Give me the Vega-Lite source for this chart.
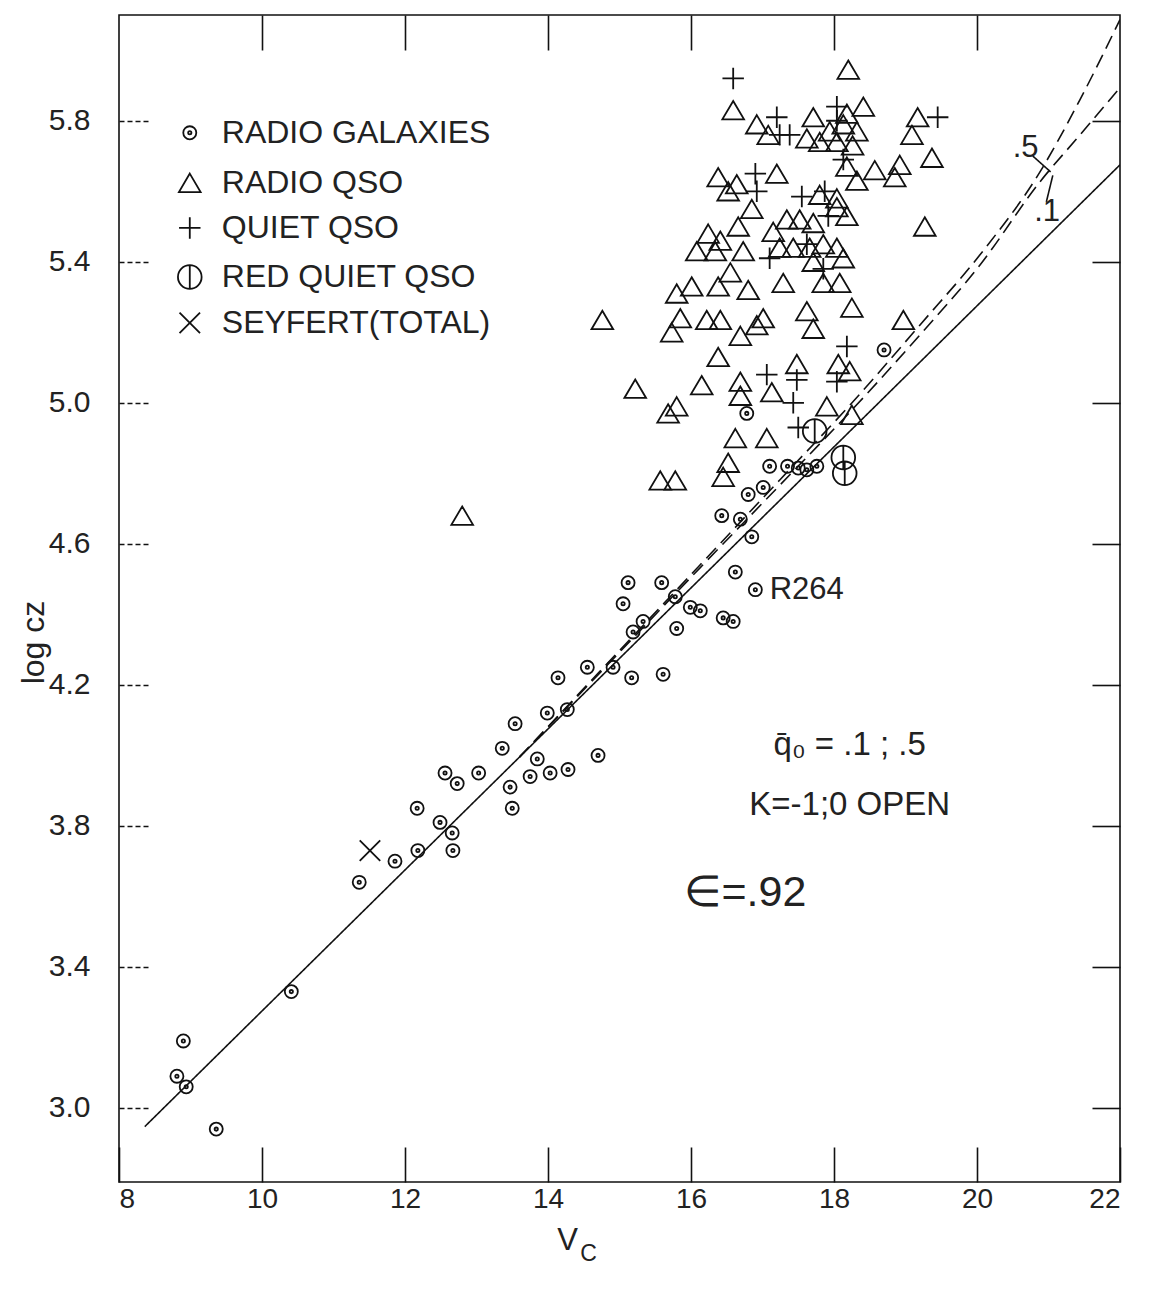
{
  "$schema": "https://vega.github.io/schema/vega-lite/v6.json",
  "width": 1001,
  "height": 1167,
  "autosize": {"type": "none"},
  "padding": {"left": 119, "top": 15, "right": 34, "bottom": 107},
  "background": "white",
  "config": {
    "view": {"stroke": "#111", "strokeWidth": 1.6},
    "axis": {"grid": false, "domain": false, "tickColor": "#111", "tickWidth": 1.6, "labelColor": "#222", "labelFont": "Liberation Sans", "titleFont": "Liberation Sans", "titleColor": "#222", "titleFontWeight": "normal"},
    "text": {"font": "Liberation Sans", "color": "#222"}
  },
  "datasets": {
    "lines": [
      {"s": "solid", "V": 8.36, "L": 2.947},
      {"s": "solid", "V": 22.0, "L": 5.675},
      {"s": "q05", "V": 13.6, "L": 3.995},
      {"s": "q05", "V": 15.007, "L": 4.299},
      {"s": "q05", "V": 16.126, "L": 4.54},
      {"s": "q05", "V": 17.245, "L": 4.782},
      {"s": "q05", "V": 18.224, "L": 4.994},
      {"s": "q05", "V": 19.203, "L": 5.221},
      {"s": "q05", "V": 20.042, "L": 5.42},
      {"s": "q05", "V": 20.881, "L": 5.655},
      {"s": "q05", "V": 21.441, "L": 5.86},
      {"s": "q05", "V": 22.0, "L": 6.087},
      {"s": "q01", "V": 13.6, "L": 3.995},
      {"s": "q01", "V": 15.007, "L": 4.294},
      {"s": "q01", "V": 16.126, "L": 4.532},
      {"s": "q01", "V": 17.245, "L": 4.767},
      {"s": "q01", "V": 18.224, "L": 4.974},
      {"s": "q01", "V": 19.203, "L": 5.193},
      {"s": "q01", "V": 20.042, "L": 5.391},
      {"s": "q01", "V": 20.881, "L": 5.627},
      {"s": "q01", "V": 21.441, "L": 5.76},
      {"s": "q01", "V": 22.0, "L": 5.894},
      {"s": "lead5", "V": 20.78, "L": 5.7},
      {"s": "lead5", "V": 21.03, "L": 5.655},
      {"s": "lead1", "V": 20.97, "L": 5.57},
      {"s": "lead1", "V": 21.06, "L": 5.645}
    ],
    "pts": [
      {"t": "gal", "V": 8.9, "L": 3.19}, {"t": "gal", "V": 8.81, "L": 3.09}, {"t": "gal", "V": 8.94, "L": 3.06},
      {"t": "gal", "V": 9.36, "L": 2.94}, {"t": "gal", "V": 10.41, "L": 3.33}, {"t": "gal", "V": 11.36, "L": 3.64},
      {"t": "gal", "V": 11.86, "L": 3.7}, {"t": "gal", "V": 12.18, "L": 3.73}, {"t": "gal", "V": 12.49, "L": 3.81},
      {"t": "gal", "V": 12.66, "L": 3.78}, {"t": "gal", "V": 12.67, "L": 3.73}, {"t": "gal", "V": 12.17, "L": 3.85},
      {"t": "gal", "V": 12.56, "L": 3.95}, {"t": "gal", "V": 12.73, "L": 3.92}, {"t": "gal", "V": 13.03, "L": 3.95},
      {"t": "gal", "V": 13.36, "L": 4.02}, {"t": "gal", "V": 13.47, "L": 3.91}, {"t": "gal", "V": 13.5, "L": 3.85},
      {"t": "gal", "V": 13.54, "L": 4.09}, {"t": "gal", "V": 13.85, "L": 3.99}, {"t": "gal", "V": 13.75, "L": 3.94},
      {"t": "gal", "V": 14.03, "L": 3.95}, {"t": "gal", "V": 14.28, "L": 3.96}, {"t": "gal", "V": 14.7, "L": 4.0},
      {"t": "gal", "V": 13.99, "L": 4.12}, {"t": "gal", "V": 14.27, "L": 4.13}, {"t": "gal", "V": 14.14, "L": 4.22},
      {"t": "gal", "V": 14.55, "L": 4.25}, {"t": "gal", "V": 14.91, "L": 4.25}, {"t": "gal", "V": 15.17, "L": 4.22},
      {"t": "gal", "V": 15.61, "L": 4.23}, {"t": "gal", "V": 15.19, "L": 4.35}, {"t": "gal", "V": 15.33, "L": 4.38},
      {"t": "gal", "V": 15.8, "L": 4.36}, {"t": "gal", "V": 15.12, "L": 4.49}, {"t": "gal", "V": 15.05, "L": 4.43},
      {"t": "gal", "V": 15.59, "L": 4.49}, {"t": "gal", "V": 15.99, "L": 4.42}, {"t": "gal", "V": 16.13, "L": 4.41},
      {"t": "gal", "V": 15.78, "L": 4.45}, {"t": "gal", "V": 16.62, "L": 4.52}, {"t": "gal", "V": 16.45, "L": 4.39},
      {"t": "gal", "V": 16.59, "L": 4.38}, {"t": "gal", "V": 16.9, "L": 4.47}, {"t": "gal", "V": 16.43, "L": 4.68},
      {"t": "gal", "V": 16.69, "L": 4.67}, {"t": "gal", "V": 16.85, "L": 4.62}, {"t": "gal", "V": 16.8, "L": 4.74},
      {"t": "gal", "V": 17.01, "L": 4.76}, {"t": "gal", "V": 17.1, "L": 4.82}, {"t": "gal", "V": 17.35, "L": 4.82},
      {"t": "gal", "V": 17.5, "L": 4.815}, {"t": "gal", "V": 17.62, "L": 4.81}, {"t": "gal", "V": 17.76, "L": 4.82},
      {"t": "gal", "V": 16.78, "L": 4.97}, {"t": "gal", "V": 18.7, "L": 5.15},
      {"t": "sey", "V": 11.51, "L": 3.73},
      {"t": "rqso", "V": 12.8, "L": 4.68}, {"t": "rqso", "V": 14.76, "L": 5.235}, {"t": "rqso", "V": 15.22, "L": 5.04},
      {"t": "rqso", "V": 18.2, "L": 5.945}, {"t": "rqso", "V": 16.59, "L": 5.83}, {"t": "rqso", "V": 16.92, "L": 5.79},
      {"t": "rqso", "V": 17.08, "L": 5.76}, {"t": "rqso", "V": 17.71, "L": 5.81}, {"t": "rqso", "V": 17.62, "L": 5.75},
      {"t": "rqso", "V": 17.8, "L": 5.74}, {"t": "rqso", "V": 18.04, "L": 5.74}, {"t": "rqso", "V": 18.26, "L": 5.73},
      {"t": "rqso", "V": 18.13, "L": 5.79}, {"t": "rqso", "V": 18.18, "L": 5.82}, {"t": "rqso", "V": 18.41, "L": 5.84},
      {"t": "rqso", "V": 18.32, "L": 5.77}, {"t": "rqso", "V": 17.94, "L": 5.77}, {"t": "rqso", "V": 19.09, "L": 5.76},
      {"t": "rqso", "V": 19.17, "L": 5.81}, {"t": "rqso", "V": 19.37, "L": 5.695}, {"t": "rqso", "V": 18.92, "L": 5.675},
      {"t": "rqso", "V": 18.85, "L": 5.64}, {"t": "rqso", "V": 18.57, "L": 5.66}, {"t": "rqso", "V": 18.32, "L": 5.63},
      {"t": "rqso", "V": 18.18, "L": 5.67}, {"t": "rqso", "V": 16.38, "L": 5.64}, {"t": "rqso", "V": 16.52, "L": 5.6},
      {"t": "rqso", "V": 16.64, "L": 5.62}, {"t": "rqso", "V": 17.2, "L": 5.65}, {"t": "rqso", "V": 16.85, "L": 5.55},
      {"t": "rqso", "V": 16.66, "L": 5.5}, {"t": "rqso", "V": 16.24, "L": 5.48}, {"t": "rqso", "V": 16.08, "L": 5.43},
      {"t": "rqso", "V": 16.34, "L": 5.43}, {"t": "rqso", "V": 16.41, "L": 5.46}, {"t": "rqso", "V": 16.73, "L": 5.43},
      {"t": "rqso", "V": 17.15, "L": 5.485}, {"t": "rqso", "V": 17.34, "L": 5.52}, {"t": "rqso", "V": 17.52, "L": 5.52},
      {"t": "rqso", "V": 17.71, "L": 5.51}, {"t": "rqso", "V": 18.04, "L": 5.555}, {"t": "rqso", "V": 18.18, "L": 5.53},
      {"t": "rqso", "V": 18.04, "L": 5.58}, {"t": "rqso", "V": 17.8, "L": 5.59}, {"t": "rqso", "V": 17.24, "L": 5.44},
      {"t": "rqso", "V": 17.43, "L": 5.44}, {"t": "rqso", "V": 17.66, "L": 5.44}, {"t": "rqso", "V": 17.85, "L": 5.45},
      {"t": "rqso", "V": 18.04, "L": 5.44}, {"t": "rqso", "V": 18.13, "L": 5.41}, {"t": "rqso", "V": 17.71, "L": 5.4},
      {"t": "rqso", "V": 19.27, "L": 5.5}, {"t": "rqso", "V": 16.55, "L": 5.37}, {"t": "rqso", "V": 17.29, "L": 5.34},
      {"t": "rqso", "V": 15.8, "L": 5.31}, {"t": "rqso", "V": 16.01, "L": 5.33}, {"t": "rqso", "V": 16.38, "L": 5.33},
      {"t": "rqso", "V": 16.8, "L": 5.32}, {"t": "rqso", "V": 17.85, "L": 5.34}, {"t": "rqso", "V": 18.08, "L": 5.34},
      {"t": "rqso", "V": 18.25, "L": 5.27}, {"t": "rqso", "V": 17.62, "L": 5.26}, {"t": "rqso", "V": 17.71, "L": 5.21},
      {"t": "rqso", "V": 15.85, "L": 5.24}, {"t": "rqso", "V": 15.73, "L": 5.2}, {"t": "rqso", "V": 16.22, "L": 5.235},
      {"t": "rqso", "V": 16.41, "L": 5.235}, {"t": "rqso", "V": 16.69, "L": 5.19}, {"t": "rqso", "V": 17.01, "L": 5.24},
      {"t": "rqso", "V": 16.92, "L": 5.22}, {"t": "rqso", "V": 16.38, "L": 5.13}, {"t": "rqso", "V": 18.97, "L": 5.235},
      {"t": "rqso", "V": 16.15, "L": 5.05}, {"t": "rqso", "V": 16.69, "L": 5.06}, {"t": "rqso", "V": 16.69, "L": 5.02},
      {"t": "rqso", "V": 15.8, "L": 4.99}, {"t": "rqso", "V": 15.68, "L": 4.97}, {"t": "rqso", "V": 17.13, "L": 5.03},
      {"t": "rqso", "V": 17.48, "L": 5.11}, {"t": "rqso", "V": 18.06, "L": 5.11}, {"t": "rqso", "V": 18.22, "L": 5.09},
      {"t": "rqso", "V": 17.9, "L": 4.99}, {"t": "rqso", "V": 16.62, "L": 4.9}, {"t": "rqso", "V": 17.06, "L": 4.9},
      {"t": "rqso", "V": 16.52, "L": 4.83}, {"t": "rqso", "V": 16.45, "L": 4.79}, {"t": "rqso", "V": 15.57, "L": 4.78},
      {"t": "rqso", "V": 15.78, "L": 4.78}, {"t": "rqso", "V": 18.25, "L": 4.966},
      {"t": "qqso", "V": 16.59, "L": 5.92}, {"t": "qqso", "V": 17.2, "L": 5.81}, {"t": "qqso", "V": 17.24, "L": 5.76},
      {"t": "qqso", "V": 18.04, "L": 5.84}, {"t": "qqso", "V": 18.04, "L": 5.8}, {"t": "qqso", "V": 19.45, "L": 5.81},
      {"t": "qqso", "V": 18.13, "L": 5.69}, {"t": "qqso", "V": 16.9, "L": 5.65}, {"t": "qqso", "V": 16.92, "L": 5.6},
      {"t": "qqso", "V": 17.55, "L": 5.585}, {"t": "qqso", "V": 17.87, "L": 5.6}, {"t": "qqso", "V": 17.92, "L": 5.53},
      {"t": "qqso", "V": 17.1, "L": 5.41}, {"t": "qqso", "V": 17.85, "L": 5.38}, {"t": "qqso", "V": 17.62, "L": 5.45},
      {"t": "qqso", "V": 18.18, "L": 5.16}, {"t": "qqso", "V": 17.06, "L": 5.08}, {"t": "qqso", "V": 17.48, "L": 5.065},
      {"t": "qqso", "V": 18.04, "L": 5.06}, {"t": "qqso", "V": 17.43, "L": 5.0}, {"t": "qqso", "V": 17.5, "L": 4.93},
      {"t": "qqso", "V": 17.38, "L": 5.76},
      {"t": "red", "V": 17.73, "L": 4.92}, {"t": "red", "V": 18.13, "L": 4.845}, {"t": "red", "V": 18.15, "L": 4.8}
    ],
    "legend": [
      {"t": "gal", "label": "RADIO  GALAXIES", "V": 8.99, "L": 5.766},
      {"t": "rqso", "label": "RADIO QSO", "V": 8.99, "L": 5.624},
      {"t": "qqso", "label": "QUIET QSO", "V": 8.99, "L": 5.496},
      {"t": "red", "label": "RED QUIET QSO", "V": 8.99, "L": 5.357},
      {"t": "sey", "label": "SEYFERT(TOTAL)", "V": 8.99, "L": 5.227}
    ],
    "notes": [
      {"label": "q̄₀ = .1 ; .5", "V": 18.22, "L": 4.03},
      {"label": "K=-1;0  OPEN", "V": 18.22, "L": 3.86}
    ],
    "eps": [{"label": "∈=.92", "V": 16.76, "L": 3.61}],
    "small": [
      {"label": "R264", "V": 17.1, "L": 4.47},
      {"label": ".5", "V": 20.5, "L": 5.723},
      {"label": ".1", "V": 20.8, "L": 5.54}
    ],
    "sub": [{"label": "C", "V": 14.45, "L": 2.79}]
  },
  "resolve": {"axis": {"x": "independent", "y": "independent"}},
  "layer": [
    {
      "data": {"name": "lines"},
      "mark": {"type": "line", "color": "#111", "strokeWidth": 1.6, "interpolate": "monotone", "clip": true},
      "encoding": {
        "x": {"field": "V", "type": "quantitative", "scale": {"domain": [8, 22], "nice": false, "zero": false},
              "axis": {"orient": "top", "values": [10, 12, 14, 16, 18, 20], "labels": false, "tickSize": -35, "title": null}},
        "y": {"field": "L", "type": "quantitative", "scale": {"domain": [2.79, 6.1], "nice": false, "zero": false},
              "axis": {"orient": "right", "values": [3.0, 3.4, 3.8, 4.2, 4.6, 5.0, 5.4, 5.8], "labels": false, "tickSize": -28, "title": null}},
        "detail": {"field": "s"},
        "strokeDash": {"field": "s", "type": "nominal", "legend": null,
          "scale": {"domain": ["solid", "q05", "q01", "lead5", "lead1"], "range": [[1, 0], [14, 7], [14, 7], [1, 0], [1, 0]]}}
      }
    },
    {
      "data": {"name": "pts"},
      "mark": {"type": "point", "filled": false, "strokeWidth": 1.8, "color": "#111", "opacity": 1},
      "encoding": {
        "x": {"field": "V", "type": "quantitative",
              "axis": {"orient": "bottom", "values": [8, 10, 12, 14, 16, 18, 20, 22], "tickSize": -35, "labelPadding": 38, "labelFontSize": 28, "labelBaseline": "top",
                       "title": "V", "titleFontSize": 31, "titleX": 448, "titleY": 58, "titleBaseline": "middle"}},
        "y": {"field": "L", "type": "quantitative",
              "axis": {"orient": "left", "values": [3.0, 3.4, 3.8, 4.2, 4.6, 5.0, 5.4, 5.8], "format": ".1f", "tickSize": -30, "tickDash": [5, 3], "labelPadding": 59, "labelFontSize": 30,
                       "title": "log cz", "titleFontSize": 32, "titleX": -86, "titleY": 627, "titleBaseline": "middle"}},
        "shape": {"field": "t", "type": "nominal", "legend": null,
          "scale": {"domain": ["gal", "rqso", "qqso", "red", "sey"],
                    "range": ["M1,0A1,1,0,1,1,-1,0A1,1,0,1,1,1,0M0.25,0A0.25,0.25,0,1,1,-0.25,0A0.25,0.25,0,1,1,0.25,0",
                              "M0,-0.85L1,0.85L-1,0.85Z",
                              "M-1,0L1,0M0,-1L0,1",
                              "M1,0A1,1,0,1,1,-1,0A1,1,0,1,1,1,0M0,-1L0,1",
                              "M-1,-1L1,1M-1,1L1,-1"]}},
        "size": {"field": "t", "type": "nominal", "legend": null,
          "scale": {"type": "ordinal", "domain": ["gal", "rqso", "qqso", "red", "sey"], "range": [170, 470, 460, 560, 420]}}
      }
    },
    {
      "data": {"name": "legend"},
      "mark": {"type": "point", "filled": false, "strokeWidth": 1.8, "color": "#111", "opacity": 1},
      "encoding": {
        "x": {"field": "V", "type": "quantitative", "axis": null},
        "y": {"field": "L", "type": "quantitative", "axis": null},
        "shape": {"field": "t", "type": "nominal", "legend": null,
          "scale": {"domain": ["gal", "rqso", "qqso", "red", "sey"],
                    "range": ["M1,0A1,1,0,1,1,-1,0A1,1,0,1,1,1,0M0.25,0A0.25,0.25,0,1,1,-0.25,0A0.25,0.25,0,1,1,0.25,0",
                              "M0,-0.85L1,0.85L-1,0.85Z",
                              "M-1,0L1,0M0,-1L0,1",
                              "M1,0A1,1,0,1,1,-1,0A1,1,0,1,1,1,0M0,-1L0,1",
                              "M-1,-1L1,1M-1,1L1,-1"]}},
        "size": {"field": "t", "type": "nominal", "legend": null,
          "scale": {"type": "ordinal", "domain": ["gal", "rqso", "qqso", "red", "sey"], "range": [170, 470, 460, 560, 420]}}
      }
    },
    {
      "data": {"name": "legend"},
      "mark": {"type": "text", "align": "left", "baseline": "middle", "dx": 32, "fontSize": 32},
      "encoding": {
        "x": {"field": "V", "type": "quantitative", "axis": null},
        "y": {"field": "L", "type": "quantitative", "axis": null},
        "text": {"field": "label"}
      }
    },
    {
      "data": {"name": "notes"},
      "mark": {"type": "text", "align": "center", "baseline": "middle", "fontSize": 33},
      "encoding": {
        "x": {"field": "V", "type": "quantitative", "axis": null},
        "y": {"field": "L", "type": "quantitative", "axis": null},
        "text": {"field": "label"}
      }
    },
    {
      "data": {"name": "eps"},
      "mark": {"type": "text", "align": "center", "baseline": "middle", "fontSize": 43},
      "encoding": {
        "x": {"field": "V", "type": "quantitative", "axis": null},
        "y": {"field": "L", "type": "quantitative", "axis": null},
        "text": {"field": "label"}
      }
    },
    {
      "data": {"name": "small"},
      "mark": {"type": "text", "align": "left", "baseline": "middle", "fontSize": 31},
      "encoding": {
        "x": {"field": "V", "type": "quantitative", "axis": null},
        "y": {"field": "L", "type": "quantitative", "axis": null},
        "text": {"field": "label"}
      }
    },
    {
      "data": {"name": "sub"},
      "mark": {"type": "text", "align": "left", "baseline": "middle", "fontSize": 23, "dy": 72},
      "encoding": {
        "x": {"field": "V", "type": "quantitative", "axis": null},
        "y": {"field": "L", "type": "quantitative", "axis": null},
        "text": {"field": "label"}
      }
    }
  ]
}
